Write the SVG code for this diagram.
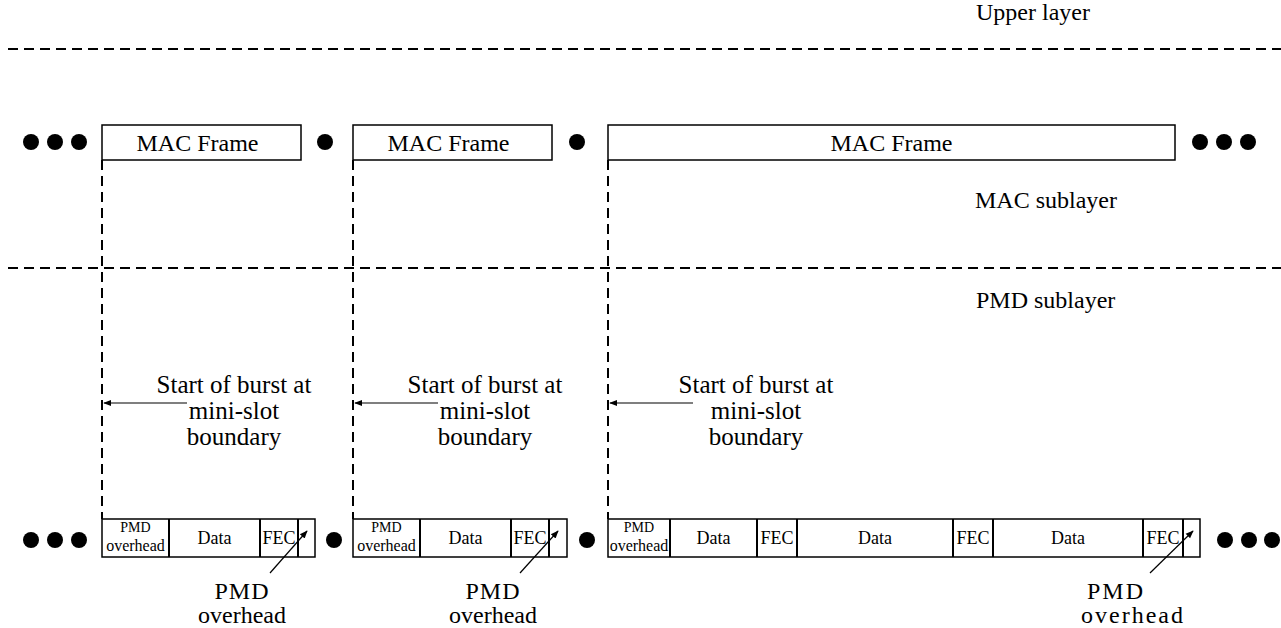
<svg xmlns="http://www.w3.org/2000/svg" width="1281" height="628" viewBox="0 0 1281 628">
<defs>
<style>
text{font-family:"Liberation Serif","Times New Roman",serif;fill:#000}
.big{font-size:24px}
.sb{font-size:25px}
.lbl{font-size:24px}
.mid{font-size:18px}
.sm{font-size:14px}
.ov{font-size:16px}
.box{fill:#fff;stroke:#000;stroke-width:1.5}
.div{stroke:#000;stroke-width:2}
.dash{stroke:#000;stroke-width:2;stroke-dasharray:10 6;fill:none}
.vdash{stroke:#000;stroke-width:2;stroke-dasharray:10 6;fill:none}
.arr{stroke:#000;stroke-width:1.2;fill:none;marker-end:url(#ah)}
</style>
<marker id="ah" viewBox="0 0 10 10" refX="9" refY="5" markerWidth="8" markerHeight="8" markerUnits="userSpaceOnUse" orient="auto">
<path d="M0,1 L10,5 L0,9 Z" fill="#000"/>
</marker>
</defs>
<rect width="1281" height="628" fill="#fff"/>

<g id="layers">
<line class="dash" x1="8" y1="49" x2="1281" y2="49"/>
<line class="dash" x1="8" y1="268" x2="1281" y2="268"/>
<text class="big" x="976" y="20">Upper layer</text>
<text class="big" x="975" y="208">MAC sublayer</text>
<text class="big" x="976" y="308">PMD sublayer</text>
</g>

<g id="mac-frames">
<g id="mac1"><rect class="box" x="102" y="125" width="199" height="35"/><text class="big" x="197.5" y="151" text-anchor="middle">MAC Frame</text></g>
<g id="mac2"><rect class="box" x="353" y="125" width="199" height="35"/><text class="big" x="448.5" y="151" text-anchor="middle">MAC Frame</text></g>
<g id="mac3"><rect class="box" x="608" y="125" width="567" height="35"/><text class="big" x="891.5" y="151" text-anchor="middle">MAC Frame</text></g>
</g>

<g id="dots">
<circle cx="31" cy="142" r="8"/><circle cx="55" cy="142" r="8"/><circle cx="79" cy="142" r="8"/>
<circle cx="325" cy="142" r="8"/>
<circle cx="577" cy="142" r="8"/>
<circle cx="1200" cy="142" r="8"/><circle cx="1224" cy="142" r="8"/><circle cx="1248" cy="142" r="8"/>
<circle cx="31" cy="540" r="8"/><circle cx="55" cy="540" r="8"/><circle cx="79" cy="540" r="8"/>
<circle cx="334" cy="540" r="8"/>
<circle cx="587" cy="540" r="8"/>
<circle cx="1225" cy="540" r="8"/><circle cx="1249" cy="540" r="8"/><circle cx="1272" cy="540" r="8"/>
</g>

<g id="burst1">
<rect class="box" x="102" y="519" width="213" height="38"/>
<line class="div" x1="169" y1="519" x2="169" y2="557"/>
<line class="div" x1="260" y1="519" x2="260" y2="557"/>
<line class="div" x1="298" y1="519" x2="298" y2="557"/>
<text class="sm" x="135.5" y="532" text-anchor="middle">PMD</text>
<text class="ov" x="135.5" y="551" text-anchor="middle">overhead</text>
<text class="mid" x="214.5" y="544" text-anchor="middle">Data</text>
<text class="mid" x="279" y="544" text-anchor="middle">FEC</text>
</g>

<g id="burst2">
<rect class="box" x="353" y="519" width="214" height="38"/>
<line class="div" x1="420" y1="519" x2="420" y2="557"/>
<line class="div" x1="511" y1="519" x2="511" y2="557"/>
<line class="div" x1="549" y1="519" x2="549" y2="557"/>
<text class="sm" x="386.5" y="532" text-anchor="middle">PMD</text>
<text class="ov" x="386.5" y="551" text-anchor="middle">overhead</text>
<text class="mid" x="465.5" y="544" text-anchor="middle">Data</text>
<text class="mid" x="530" y="544" text-anchor="middle">FEC</text>
</g>

<g id="burst3">
<rect class="box" x="608" y="519" width="592" height="38"/>
<line class="div" x1="670" y1="519" x2="670" y2="557"/>
<line class="div" x1="757" y1="519" x2="757" y2="557"/>
<line class="div" x1="797" y1="519" x2="797" y2="557"/>
<line class="div" x1="953" y1="519" x2="953" y2="557"/>
<line class="div" x1="993" y1="519" x2="993" y2="557"/>
<line class="div" x1="1143" y1="519" x2="1143" y2="557"/>
<line class="div" x1="1183" y1="519" x2="1183" y2="557"/>
<text class="sm" x="639" y="532" text-anchor="middle">PMD</text>
<text class="ov" x="639" y="551" text-anchor="middle">overhead</text>
<text class="mid" x="713.5" y="544" text-anchor="middle">Data</text>
<text class="mid" x="777" y="544" text-anchor="middle">FEC</text>
<text class="mid" x="875" y="544" text-anchor="middle">Data</text>
<text class="mid" x="973" y="544" text-anchor="middle">FEC</text>
<text class="mid" x="1068" y="544" text-anchor="middle">Data</text>
<text class="mid" x="1163" y="544" text-anchor="middle">FEC</text>
</g>

<g id="labels">
<text class="sb" text-anchor="middle"><tspan x="234" y="393">Start of burst at</tspan><tspan x="234" y="419">mini-slot</tspan><tspan x="234" y="445">boundary</tspan></text>
<text class="sb" text-anchor="middle"><tspan x="485" y="393">Start of burst at</tspan><tspan x="485" y="419">mini-slot</tspan><tspan x="485" y="445">boundary</tspan></text>
<text class="sb" text-anchor="middle"><tspan x="756" y="393">Start of burst at</tspan><tspan x="756" y="419">mini-slot</tspan><tspan x="756" y="445">boundary</tspan></text>
<text class="lbl" text-anchor="middle"><tspan x="242" y="599" letter-spacing="1">PMD</tspan><tspan x="242" y="623">overhead</tspan></text>
<text class="lbl" text-anchor="middle"><tspan x="493" y="599" letter-spacing="1">PMD</tspan><tspan x="493" y="623">overhead</tspan></text>
<text class="lbl" text-anchor="middle"><tspan x="1116" y="599" letter-spacing="2">PMD</tspan><tspan x="1133" y="623" letter-spacing="2">overhead</tspan></text>
</g>

<g id="connectors">
<line class="vdash" x1="102" y1="160" x2="102" y2="519"/>
<line class="vdash" x1="353" y1="160" x2="353" y2="519"/>
<line class="vdash" x1="608" y1="160" x2="608" y2="519"/>
<line class="arr" x1="187" y1="403" x2="104" y2="403"/>
<line class="arr" x1="438" y1="403" x2="355" y2="403"/>
<line class="arr" x1="693" y1="403" x2="610" y2="403"/>
<line class="arr" x1="270" y1="573" x2="307" y2="531"/>
<line class="arr" x1="520" y1="573" x2="558" y2="531"/>
<line class="arr" x1="1150" y1="573" x2="1193" y2="531"/>
</g>
</svg>
